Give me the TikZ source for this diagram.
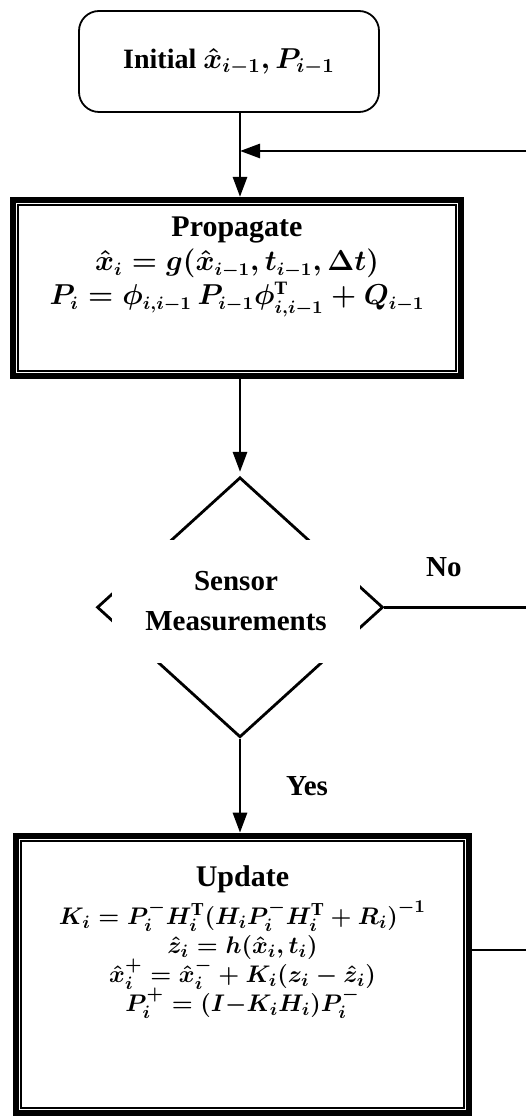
\documentclass[tikz,border=0pt]{standalone}
\usepackage{fontspec}
\setmainfont{Liberation Serif}
\usepackage{tikz}
\usetikzlibrary{arrows.meta,positioning,shapes.geometric}
\newcommand{\boxfont}{\fontsize{13.5}{17}\selectfont\bfseries\boldmath}
\newcommand{\updfont}{\fontsize{13}{14.5}\selectfont\bfseries\boldmath}
\newcommand{\labelfont}{\fontsize{14.5}{20}\selectfont\bfseries\boldmath}
\newcommand{\titlesize}{\fontsize{15}{17}\selectfont}

\begin{document}
\begin{tikzpicture}[
  x=0.5pt, y=-0.5pt,
  startbox/.style={
    rectangle,
    rounded corners=10pt,
    draw=black,
    line width=0.9pt,
    align=center,
    minimum width=150pt,
    minimum height=50.5pt,
    font=\fontsize{14}{17}\selectfont\bfseries\boldmath
  },
  stagebox/.style={
    rectangle,
    draw=black,
    line width=3pt,
    align=flush center,
    inner sep=0pt,
    font=\boxfont
  },
  decision/.style={
    diamond,
    draw=black,
    line width=1.4pt,
    inner sep=0pt,
    minimum width=143pt,
    minimum height=130pt
  },
  sensorlabel/.style={
    rectangle,
    fill=white,
    align=center,
    inner sep=0pt,
    minimum width=124pt,
    minimum height=61.5pt,
    font=\labelfont
  },
  innerline/.style={draw=black, line width=0.8pt},
  line/.style={line width=1.4pt},
  arrow/.style={-{Triangle[length=10pt,width=7pt]}, line width=1.4pt}
]
\useasboundingbox (0,0) rectangle (526,1117);

\node[startbox] (init) at (229,61.5) {Initial $\hat{x}_{i-1}, P_{i-1}$};
\node[stagebox, text width=224pt, minimum height=88pt,
  execute at begin node={\baselineskip=17pt\lineskiplimit=-100pt},
  below=42pt of init, xshift=4pt] (prop) {{\titlesize Propagate}\\
  $\hat{x}_i = g(\hat{x}_{i-1}, t_{i-1}, \Delta t)$\\
  $P_i = \phi_{i,i-1}\, P_{i-1}\phi^{\mathrm{T}}_{i,i-1} + Q_{i-1}$\\[10pt]\mbox{}};
\node[decision, below=48.5pt of prop, xshift=1.5pt] (dec) {};
\node[sensorlabel] (sensor) at ([xshift=-2pt, yshift=3pt]dec.center) {Sensor\\Measurements};
\node[stagebox, font=\updfont, text width=226.5pt, minimum height=138.5pt,
  execute at begin node={\baselineskip=14.5pt\lineskiplimit=-100pt},
  below=47pt of dec, xshift=1.25pt] (upd) {{\titlesize Update}\\[4.5pt]
  $K_i = P_i^- H_i^{\mathrm{T}}\bigl(H_i P_i^- H_i^{\mathrm{T}} + R_i\bigr)^{-1}$\\
  $\hat{z}_i = h(\hat{x}_i, t_i)$\\
  $\hat{x}_i^+ = \hat{x}_i^- + K_i(z_i - \hat{z}_i)$\\
  $P_i^+ = (I{-}K_i H_i)P_i^-$\\[21.5pt]\mbox{}};

\foreach \n in {prop,upd}
  \draw[innerline] ([xshift=4pt,yshift=-4pt]\n.north west) rectangle ([xshift=-4pt,yshift=4pt]\n.south east);

% loop ends at the right margin
\coordinate (fbin) at (526,151);
\coordinate (rightedge) at (526,950);

\draw[arrow] (init.south -| dec.north) -- (prop.north -| dec.north);
\draw[arrow] (fbin) -- (fbin -| dec.north);
\draw[arrow, shorten >=2pt] (prop.south -| dec.north) -- (dec.north);
\draw[arrow] (dec.south) -- node[xshift=33.5pt, font=\labelfont] {Yes} (upd.north -| dec.south);
\draw[line] (dec.east) -- node[pos=0.42, yshift=20pt, font=\labelfont] {No} (dec.east -| rightedge);
\draw[line] (upd.east |- rightedge) -- (rightedge);

\end{tikzpicture}
\end{document}
